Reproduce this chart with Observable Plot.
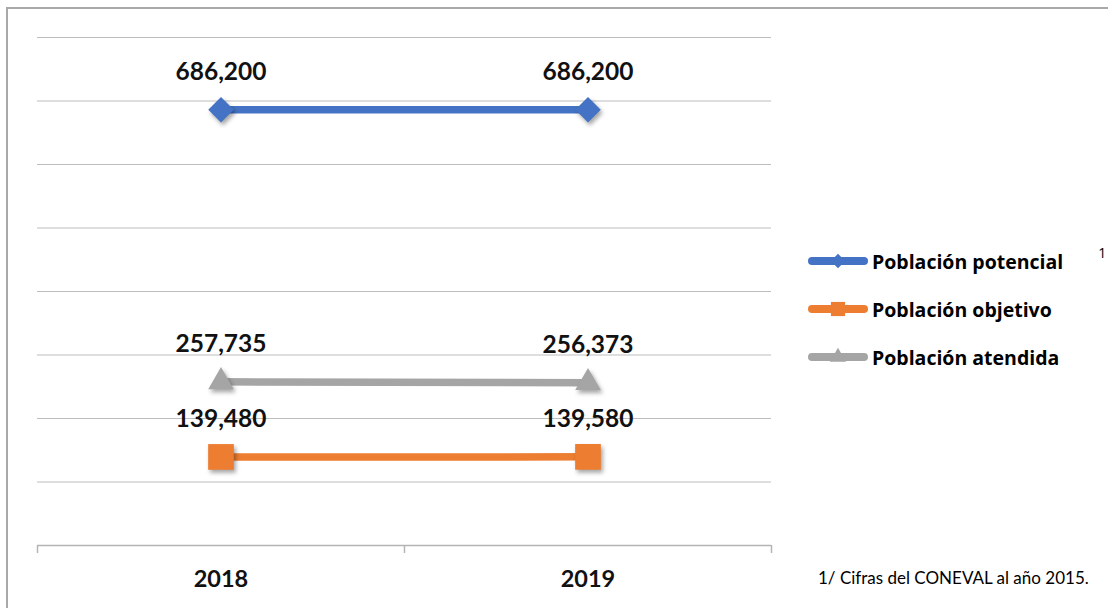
<!DOCTYPE html>
<html>
<head>
<meta charset="utf-8">
<script src="https://cdn.jsdelivr.net/npm/d3@7"></script>
<script src="https://cdn.jsdelivr.net/npm/@observablehq/plot@0.6"></script>
<style>
  html, body { margin: 0; padding: 0; background: #fff; overflow: hidden; width: 1108px; height: 608px; }
  #wrap { position: relative; width: 1108px; height: 608px; }
  #frame { position: absolute; left: 6px; top: 7px; width: 1300px; height: 800px;
           border-left: 2px solid #a9a9a9; border-top: 2px solid #a9a9a9; box-sizing: border-box; }
  #chart { position: absolute; left: 0; top: 0; }
  #chart g[aria-label="dot"] { filter: drop-shadow(2px 3px 2px rgba(0,0,0,0.35)); }
  #legend { position: absolute; left: 806px; top: 0; font-family: "Open Sans", sans-serif; }
  .lrow { position: absolute; left: 0; height: 30px; display: flex; align-items: center; white-space: nowrap; }
  .lrow span { font-weight: 700; font-size: 19.5px; color: #000; margin-left: 2px; }
  .lrow sup { font-weight: 400; font-size: 14px; margin-left: 35px; position: relative; top: -9px; }
  #note { position: absolute; left: 818px; top: 567px; font-family: Lato, sans-serif; font-size: 17px; color: #000; white-space: nowrap; }
</style>
</head>
<body>
<div id="wrap">
  <div id="chart"></div>
  <div id="frame"></div>
  <div id="legend"></div>
  <div id="note">1/ Cifras del CONEVAL al año 2015.</div>
</div>
<script>
// ---- data ----
const years = [2018, 2019];
const seriesNames = ["Población potencial", "Población objetivo", "Población atendida"];
const potencial = [686200, 686200];
const objetivo = [139480, 139580];
const atendida = [257735, 256373];
const yGrid = [100000, 200000, 300000, 400000, 500000, 600000, 700000, 800000];
const xBoundaries = [2017.5, 2018.5, 2019.5];
const legendSup = ["1", "", ""];

// ---- styles ----
const seriesValues = [potencial, objetivo, atendida];
const styles = [
  {color: "#4472C4", symbol: "diamond2", r: 11.5},
  {color: "#ED7D31", symbol: "square", r: 14.5},
  {color: "#A5A5A5", symbol: "triangle", r: 9.5}
];

const rows = seriesNames.flatMap((name, i) =>
  years.map((yr, j) => ({serie: name, idx: i, year: yr, value: seriesValues[i][j]})));

const fmt = d3.format(",");

const lineMarks = seriesNames.map((name, i) =>
  Plot.line(rows.filter(d => d.idx === i), {x: "year", y: "value", stroke: styles[i].color, strokeWidth: 7.5}));
const dotMarks = seriesNames.map((name, i) =>
  Plot.dot(rows.filter(d => d.idx === i), {x: "year", y: "value", fill: styles[i].color, stroke: "none",
    symbol: styles[i].symbol, r: styles[i].r}));

const chart = Plot.plot({
  width: 1108,
  height: 608,
  marginLeft: 37,
  marginRight: 337,
  marginTop: 37,
  marginBottom: 63,
  style: {background: "transparent", fontFamily: "Lato, sans-serif", color: "#000"},
  x: {domain: [2017.5, 2019.5], axis: null, label: null},
  y: {domain: [0, 800000], axis: null, label: null},
  marks: [
    Plot.ruleY(yGrid, {stroke: "#bdbdbd", strokeWidth: 1.2}),
    Plot.ruleY([0], {stroke: "#b5b5b5", strokeWidth: 1.5}),
    Plot.axisX(xBoundaries, {tickSize: 8, tickFormat: () => "", label: null, stroke: "#b5b5b5", strokeWidth: 1.5}),
    Plot.axisX(years, {tickSize: 0, tickPadding: 25, fontSize: 23.5, fontWeight: "bold", fill: "#111",
      label: null, tickFormat: d => String(d)}),
    ...lineMarks,
    ...dotMarks,
    Plot.text(rows, {x: "year", y: "value", text: d => fmt(d.value), dy: -38,
      fontSize: 24.5, fontWeight: "bold", fill: "#111"})
  ]
});
document.getElementById("chart").appendChild(chart);

// ---- legend ----
const legend = document.getElementById("legend");
const rowCenters = [261, 309, 357];
const legendSymbolR = [6.5, 8, 6];
seriesNames.forEach((name, i) => {
  const row = document.createElement("div");
  row.className = "lrow";
  row.style.top = (rowCenters[i] - 15) + "px";
  const sym = d3.symbol(
    [d3.symbolDiamond2, d3.symbolSquare, d3.symbolTriangle][i],
    Math.PI * legendSymbolR[i] * legendSymbolR[i])();
  row.innerHTML =
    `<svg width="64" height="30"><line x1="6" x2="58" y1="15" y2="15" stroke="${styles[i].color}" stroke-width="8" stroke-linecap="round"/>` +
    `<path d="${sym}" transform="translate(32,15)" fill="${styles[i].color}"/></svg>` +
    `<span>${name}</span>` + (legendSup[i] ? `<sup>${legendSup[i]}</sup>` : "");
  legend.appendChild(row);
});
</script>
</body>
</html>
